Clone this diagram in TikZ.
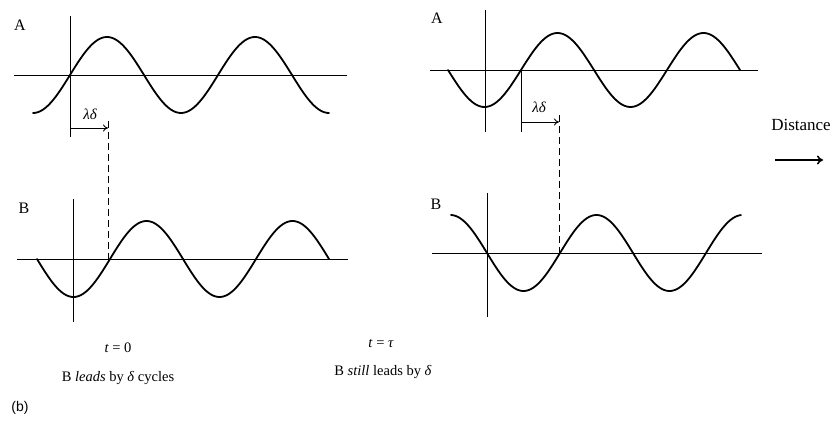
\documentclass[tikz,border=0pt]{standalone}
\usepackage{fontspec}
\setmainfont{Liberation Serif}
\newfontfamily\sansf{Liberation Sans}
\usetikzlibrary{arrows.meta}
\tikzset{
  axisline/.style={line width=0.9pt},
  wave/.style={line width=1.8pt, line join=round, line cap=round},
  guide/.style={line width=0.9pt, dash pattern=on 7pt off 4pt},
  shift arrow/.style={line width=0.9pt, -{To[length=5pt,width=7pt]}},
  dist arrow/.style={line width=1.6pt, -{To[length=6pt,width=9pt]}},
  lbl/.style={font=\fontsize{16}{18}\selectfont, inner sep=0pt},
  captext/.style={font=\fontsize{14.5}{17}\selectfont, inner sep=0pt},
}
\begin{document}
\begin{tikzpicture}[x=1pt,y=-1pt]
\useasboundingbox (0,0) rectangle (836,422);

% ---------- left panel, A ----------
\draw[axisline] (14,75) -- (347,75);
\draw[axisline] (70,16) -- (70,137);
\draw[wave] plot[domain=33:329, samples=160, smooth] (\x, {75-38*sin((\x-70)*2.43243)});
\node[lbl] (la) at (20,25) {A};
\coordinate (l0) at (70,128);
\coordinate (l1) at (108,128);
\coordinate (lt) at (108,121);
\coordinate (l2) at (108,259);
\draw[shift arrow] (l0) -- (l1);
\node[lbl, font=\fontsize{15}{17}\selectfont\itshape] (lld) at (90,114) {λδ};
\draw[guide] (lt) -- (l2);

% ---------- left panel, B ----------
\draw[axisline] (17,259) -- (348,259);
\draw[axisline] (73,199) -- (73,322);
\draw[wave] plot[domain=37:329, samples=160, smooth] (\x, {259+38*sin((\x-37)*2.46575)});
\node[lbl] (lb) at (24,208) {B};

% ---------- right panel, A ----------
\draw[axisline] (430,70) -- (758,70);
\draw[axisline] (485,10) -- (485,132);
\draw[wave] plot[domain=448:740, samples=160, smooth] (\x, {70+37*sin((\x-448)*2.46575)});
\node[lbl] (ra) at (437,18) {A};
\coordinate (r0) at (521,122);
\coordinate (rt) at (521,70);
\coordinate (rb) at (521,132);
\coordinate (r1) at (559,122);
\coordinate (rtop) at (559,115);
\coordinate (r2) at (559,253);
\draw[axisline] (rt) -- (rb);
\draw[shift arrow] (r0) -- (r1);
\node[lbl, font=\fontsize{15}{17}\selectfont\itshape] (rld) at (539,107) {λδ};
\draw[guide] (rtop) -- (r2);

% ---------- right panel, B ----------
\draw[axisline] (432,253) -- (762,253);
\draw[axisline] (487,193) -- (487,317);
\draw[wave] plot[domain=451:741, samples=160, smooth] (\x, {253+38*sin((\x-487)*2.46575)});
\node[lbl] (rbl) at (436,204) {B};

% ---------- distance ----------
\node[lbl, font=\fontsize{17}{19}\selectfont] (dist) at (801,125) {Distance};
\coordinate (d0) at (775,160);
\coordinate (d1) at (823,160);
\draw[dist arrow] (d0) -- (d1);

% ---------- captions ----------
\node[captext] (c1) at (118,348) {\textit{t} = 0};
\node[captext] (c2) at (118,378) {B \textit{leads} by \textit{δ} cycles};
\node[captext] (c3) at (381,343) {\textit{t} = \textit{τ}};
\node[captext] (c4) at (383,372) {B \textit{still} leads by \textit{δ}};
\node[captext, font=\fontsize{14}{16}\selectfont\sansf] (c5) at (20,408) {(b)};
\end{tikzpicture}
\end{document}
